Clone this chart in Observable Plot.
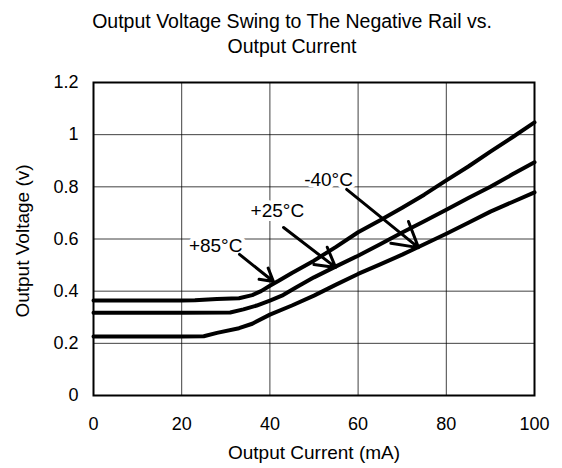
<!DOCTYPE html>
<html><head><meta charset="utf-8">
<script src="https://cdn.jsdelivr.net/npm/d3@7"></script>
<script src="https://cdn.jsdelivr.net/npm/@observablehq/plot@0.6"></script>
<style>body{margin:0;background:#fff;font-family:"Liberation Sans",Arial,sans-serif}</style>
</head><body><div id="chart"></div>
<script>
const titleLines = ["Output Voltage Swing to The Negative Rail vs.", "Output Current"];
const xLabel = "Output Current (mA)";
const yLabel = "Output Voltage (v)";
const xTicks = [0, 20, 40, 60, 80, 100];
const yTicks = [0, 0.2, 0.4, 0.6, 0.8, 1.0, 1.2];

const seriesNames = ["+85°C", "+25°C", "-40°C"];
const currentP85 = [0, 10, 20, 23, 28, 33, 36, 38, 40, 42, 45, 50, 55, 60, 65, 70, 75, 80, 85, 90, 95, 100];
const voltageP85 = [0.364, 0.364, 0.364, 0.365, 0.37, 0.373, 0.385, 0.40, 0.421, 0.44, 0.47, 0.517, 0.57, 0.626, 0.672, 0.72, 0.77, 0.825, 0.878, 0.935, 0.99, 1.047];
const currentP25 = [0, 10, 20, 31, 34, 37, 40, 43, 46, 50, 55, 60, 65, 70, 75, 80, 85, 90, 95, 100];
const voltageP25 = [0.317, 0.317, 0.317, 0.318, 0.33, 0.345, 0.364, 0.385, 0.415, 0.453, 0.495, 0.536, 0.58, 0.625, 0.668, 0.712, 0.757, 0.80, 0.848, 0.894];
const currentM40 = [0, 10, 20, 25, 28, 33, 36, 40, 45, 50, 55, 60, 65, 70, 75, 80, 85, 90, 95, 100];
const voltageM40 = [0.226, 0.226, 0.226, 0.227, 0.24, 0.258, 0.275, 0.31, 0.345, 0.383, 0.425, 0.466, 0.503, 0.54, 0.58, 0.62, 0.662, 0.705, 0.742, 0.779];

// annotation labels and arrows (data coordinates)
const labelX = [27.7, 41.7, 53.3];
const labelY = [0.575, 0.709, 0.828];
const arrowFromX = [33.1, 43.1, 57.4];
const arrowFromY = [0.541, 0.644, 0.79];
const arrowToX = [40.8, 54.9, 73.7];
const arrowToY = [0.437, 0.491, 0.567];

const currents = [currentP85, currentP25, currentM40];
const voltages = [voltageP85, voltageP25, voltageM40];
const rows = seriesNames.flatMap((s, i) => currents[i].map((c, j) => ({series: s, current: c, voltage: voltages[i][j]})));
const labels = seriesNames.map((s, i) => ({text: s, x: labelX[i], y: labelY[i]}));
const arrows = seriesNames.map((s, i) => ({x1: arrowFromX[i], y1: arrowFromY[i], x2: arrowToX[i], y2: arrowToY[i]}));

const chart = Plot.plot({
  width: 562,
  height: 468,
  marginTop: 82,
  marginBottom: 73,
  marginLeft: 93,
  marginRight: 28,
  style: {fontFamily: "'Liberation Sans', Arial, sans-serif", fontSize: "18px", color: "#000", background: "#fff", overflow: "visible"},
  x: {domain: [0, 100]},
  y: {domain: [0, 1.2]},
  marks: [
    Plot.gridX(xTicks, {stroke: "#000", strokeOpacity: 0.75, strokeWidth: 1}),
    Plot.gridY(yTicks, {stroke: "#000", strokeOpacity: 0.75, strokeWidth: 1}),
    Plot.line(rows, {x: "current", y: "voltage", z: "series", stroke: "#000", strokeWidth: 4, strokeLinejoin: "round"}),
    Plot.text(labels, {x: "x", y: "y", text: "text", fontSize: 19, fill: "#000", stroke: "#fff", strokeWidth: 8}),
    Plot.arrow(arrows, {x1: "x1", y1: "y1", x2: "x2", y2: "y2", stroke: "#000", strokeWidth: 3, headLength: 14}),
    Plot.frame({stroke: "#000", strokeWidth: 2}),
    Plot.axisX(xTicks, {tickSize: 0, tickPadding: 22, label: null, fontSize: 18}),
    Plot.axisY(yTicks, {tickSize: 0, tickPadding: 15, label: null, fontSize: 18, tickFormat: d => String(Math.round(d * 10) / 10)}),
    Plot.text([xLabel], {frameAnchor: "bottom", dy: 57, fontSize: 19, lineAnchor: "middle", textAnchor: "middle"}),
    Plot.text([yLabel], {frameAnchor: "left", dx: -71, dy: 2, rotate: -90, fontSize: 19, lineAnchor: "middle", textAnchor: "middle"}),
    Plot.text([titleLines[0]], {frameAnchor: "top", dx: -22, dy: -61, fontSize: 19.5, lineAnchor: "middle", textAnchor: "middle"}),
    Plot.text([titleLines[1]], {frameAnchor: "top", dx: -22, dy: -36, fontSize: 19.5, lineAnchor: "middle", textAnchor: "middle"})
  ]
});
document.getElementById("chart").appendChild(chart);
</script>
</body></html>
